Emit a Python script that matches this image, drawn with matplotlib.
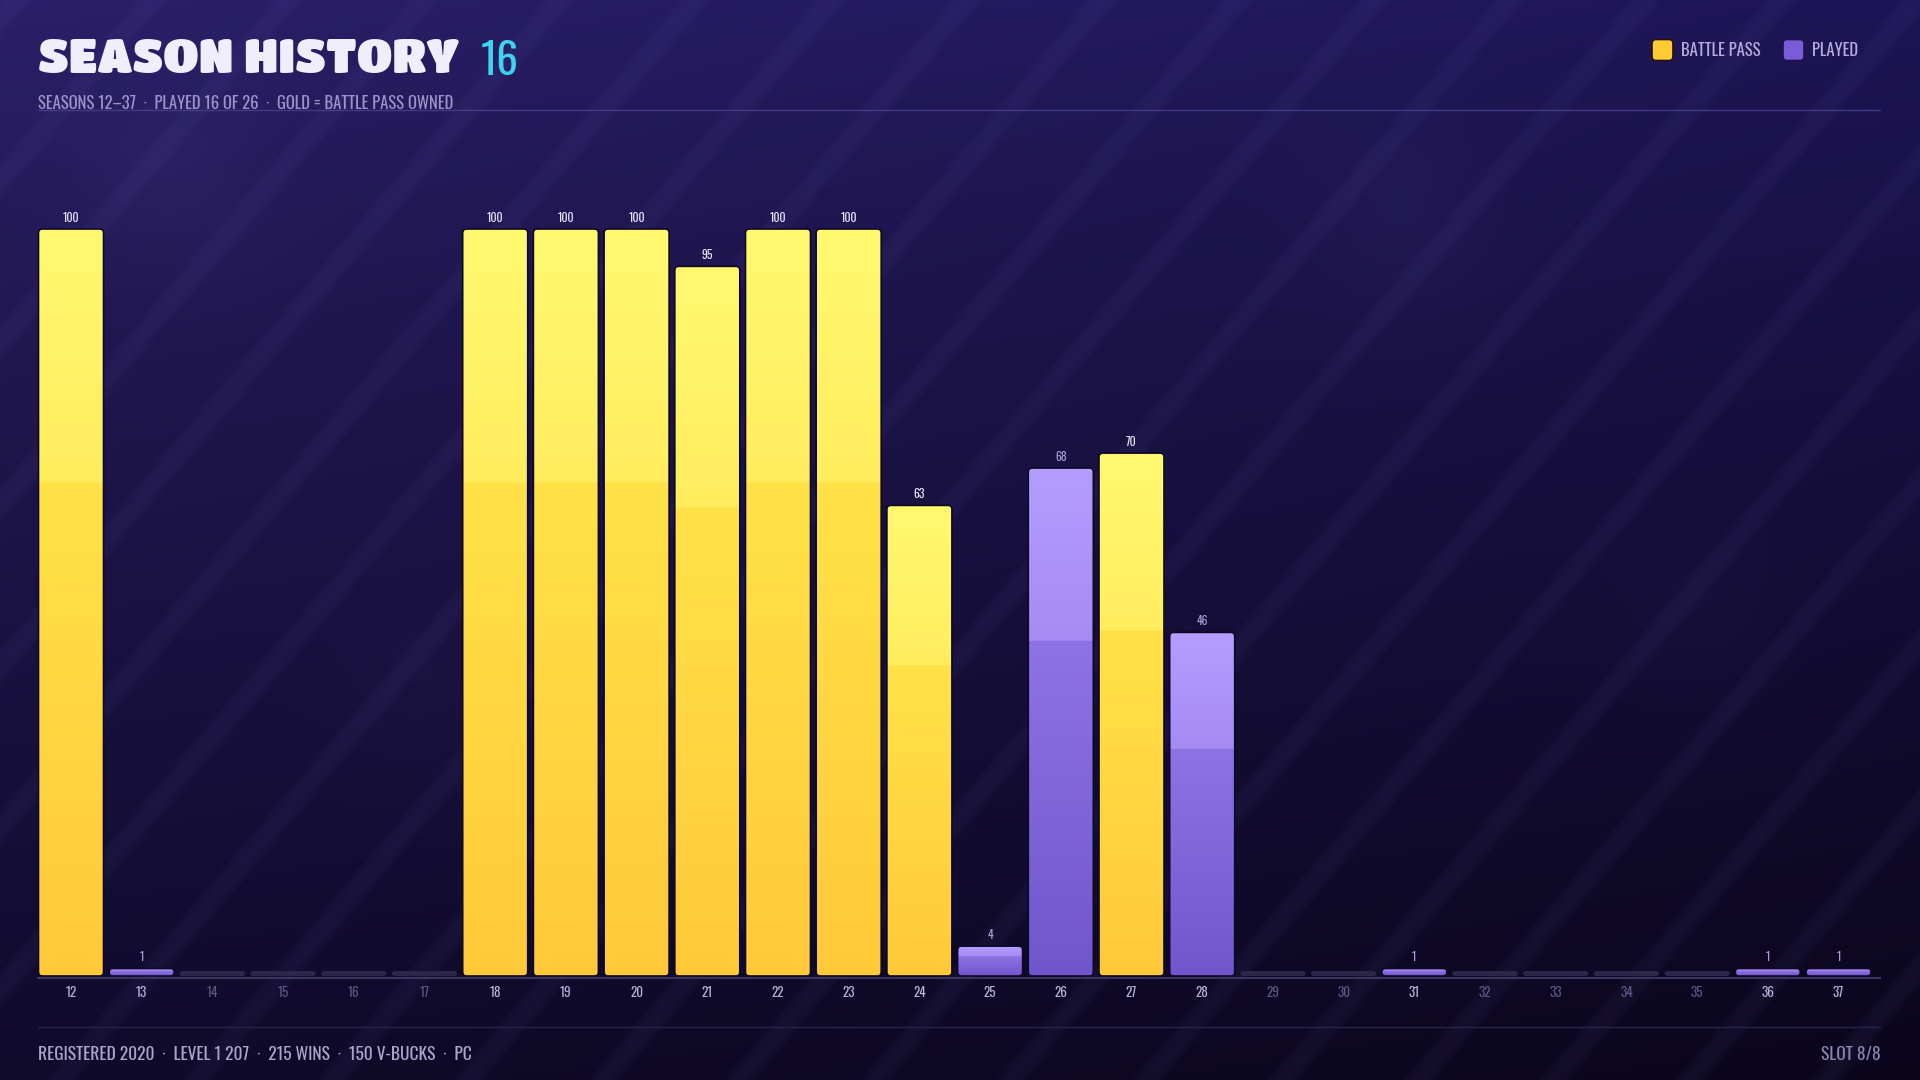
import numpy as np
import matplotlib
matplotlib.use("Agg")
import matplotlib.pyplot as plt
from matplotlib.patches import FancyBboxPatch
from matplotlib.colors import to_rgb

# ---------------- data ----------------
seasons = list(range(12, 38))
levels = [100, 1, 0, 0, 0, 0, 100, 100, 100, 95, 100, 100, 63, 4, 68, 70, 46,
          0, 0, 1, 0, 0, 0, 0, 1, 1]
battle_pass = [1, 0, 0, 0, 0, 0, 1, 1, 1, 1, 1, 1, 1, 0, 0, 1, 0,
               0, 0, 0, 0, 0, 0, 0, 0, 0]
title_text = "SEASON HISTORY"
count_text = "16"
subtitle_text = "SEASONS 12\u201337  \u00b7  PLAYED 16 OF 26  \u00b7  GOLD = BATTLE PASS OWNED"
footer_left = "REGISTERED 2020  \u00b7  LEVEL 1 207  \u00b7  215 WINS  \u00b7  150 V-BUCKS  \u00b7  PC"
footer_right = "SLOT 8/8"
legend_labels = ["BATTLE PASS", "PLAYED"]

# ---------------- style ----------------
W, H = 1920, 1080
NARROW = ["Oswald", "DejaVu Sans"]
HEAVY = ["Titan One", "Lilita One", "DejaVu Sans"]
GOLD = ["#FFF970", "#FFED5E", "#FFE248", "#FFC93A"]
PURP = ["#B59DFF", "#A68BF3", "#8E73E4", "#7155CD"]
STUB = "#2B2749"
EDGE = "#0D0826"

fig = plt.figure(figsize=(W / 100, H / 100), dpi=100)

# background
ax_bg = fig.add_axes([0, 0, 1, 1])
yy, xx = np.mgrid[0:H, 0:W].astype(float)
u = xx / W
v = yy / H
TL, TR = np.array(to_rgb("#2B2069")), np.array(to_rgb("#1E1557"))
BL, BR = np.array(to_rgb("#100A2B")), np.array(to_rgb("#0B061C"))
top = TL[None, None, :] * (1 - u[..., None]) + TR[None, None, :] * u[..., None]
bot = BL[None, None, :] * (1 - u[..., None]) + BR[None, None, :] * u[..., None]
vv = (v ** 0.85)[..., None]
bg = top * (1 - vv) + bot * vv
ang = np.deg2rad(50)
s = xx * np.sin(ang) + yy * np.cos(ang)
period, sw = 104.0, 24.0
ph = np.mod(s, period)
mask = np.clip(1 - np.abs(ph - sw / 2) / (sw / 2), 0, 1) ** 0.4
lav = np.array(to_rgb("#7A6FC8"))
bg = bg + 0.07 * mask[..., None] * (lav - bg)
for (cx, cy, r, a) in [(170, 175, 70, 0.06), (1405, 225, 70, 0.05), (1700, 610, 60, 0.03), (420, 690, 60, 0.03)]:
    g = np.exp(-((xx - cx) ** 2 + (yy - cy) ** 2) / (2 * r * r))
    bg = bg + a * g[..., None] * (lav - bg)
ax_bg.imshow(np.clip(bg, 0, 1), extent=[0, W, H, 0], aspect="auto", interpolation="bilinear")
ax_bg.set_xlim(0, W)
ax_bg.set_ylim(H, 0)
ax_bg.axis("off")

# header
ax_bg.text(38, 73, title_text, family=HEAVY, fontsize=34,
           color="#F1EEFB", va="baseline", ha="left")
ax_bg.text(481, 75, count_text, family=NARROW, fontsize=31, fontweight=300, color="#3DD4F2",
           va="baseline", ha="left")
ax_bg.text(38, 109, subtitle_text, family=NARROW, fontsize=12, fontweight=300, color="#9B93C9",
           va="baseline", ha="left")
ax_bg.plot([38, 1880], [109.5, 109.5], color="#4B418F", lw=1, alpha=0.8)

# legend
for (x0, col, edge, lab) in [(1652, "#FFCB35", "#2A0F10", legend_labels[0]),
                             (1783, "#7A5CD9", "#1B1450", legend_labels[1])]:
    sq = FancyBboxPatch((x0, 39.5), 21, 21, boxstyle="round,pad=0,rounding_size=4",
                        facecolor=col, edgecolor=edge, lw=1.2)
    ax_bg.add_patch(sq)
    ax_bg.text(x0 + 29, 51, lab, family=NARROW, fontsize=12, fontweight=300, color="#B4ADDB",
               va="center", ha="left")

# baseline / footer line
ax_bg.plot([38, 1880], [977.5, 977.5], color="#3A355F", lw=1.5)
ax_bg.plot([38, 1880], [1027, 1027], color="#27234A", lw=1)
ax_bg.text(38, 1054, footer_left, family=NARROW, fontsize=12.5, fontweight=300, color="#ABA5CD",
           va="center", ha="left")
ax_bg.text(1881, 1054, footer_right, family=NARROW, fontsize=12.5, fontweight=300, color="#8A84AE",
           va="center", ha="right")

# main axes
base_px, top_px, full_px = 976, 160, 229
left_px, right_px = 71 - 35.35, 1838.5 + 35.35
ax = fig.add_axes([left_px / W, (H - base_px) / H, (right_px - left_px) / W, (base_px - top_px) / H])
ymax = 100 * (base_px - top_px) / (base_px - full_px)
ax.set_facecolor("none")
for sp in ax.spines.values():
    sp.set_visible(False)
xpp = 26 / (right_px - left_px)
ypp = ymax / (base_px - top_px)
aspect = ypp / xpp

x = np.arange(len(seasons))
heights = np.array(levels, dtype=float)
played = heights > 0
stub_h = 5 * ypp
disp_h = np.where(played, heights, stub_h)
bars = ax.bar(x, disp_h, width=0.92, color="none", edgecolor="none")


def grad(cols, n=400, split=0.34):
    t = np.linspace(0, 1, n)
    c = [np.array(to_rgb(k)) for k in cols]
    out = np.zeros((n, 1, 3))
    for i, ti in enumerate(t):
        if ti < split:
            f = ti / split
            out[i, 0] = c[0] * (1 - f) + c[1] * f
        else:
            f = (ti - split) / (1 - split)
            out[i, 0] = c[2] * (1 - f) + c[3] * f
    return out


gold_img = grad(GOLD)
purp_img = grad(PURP)

for i, rect in enumerate(bars):
    x0, w, h = rect.get_x(), rect.get_width(), rect.get_height()
    rect.set_visible(False)
    r = min(4 * xpp, (h / aspect) / 2 * 0.98)
    if played[i]:
        patch = FancyBboxPatch((x0, 0), w, h, boxstyle=f"round,pad=0,rounding_size={r}",
                               mutation_aspect=aspect, facecolor="none", edgecolor="none")
        ax.add_patch(patch)
        img = gold_img if battle_pass[i] else purp_img
        im = ax.imshow(img, extent=(x0, x0 + w, 0, h), origin="upper", aspect="auto",
                       interpolation="bilinear", zorder=2)
        im.set_clip_path(patch)
        edge = FancyBboxPatch((x0, 0), w, h, boxstyle=f"round,pad=0,rounding_size={r}",
                              mutation_aspect=aspect, facecolor="none", edgecolor=EDGE,
                              lw=1.2, zorder=3)
        ax.add_patch(edge)
        lab_col = "#EAE6FA" if battle_pass[i] else "#A59DD3"
        ax.text(x[i], h + 11.5 * ypp, f"{levels[i]}", family=NARROW, fontsize=8.5,
                color=lab_col, ha="center", va="center", zorder=4)
    else:
        patch = FancyBboxPatch((x0, 0), w, h, boxstyle=f"round,pad=0,rounding_size={r}",
                               mutation_aspect=aspect, facecolor=STUB, edgecolor="none",
                               zorder=2)
        ax.add_patch(patch)

ax.set_xlim(-0.5, len(seasons) - 0.5)
ax.set_ylim(0, ymax)
ax.set_yticks([])
ax.set_xticks(x, [str(sn) for sn in seasons])
ax.tick_params(axis="x", length=0, pad=7)
for lbl, p in zip(ax.get_xticklabels(), played):
    lbl.set_fontfamily(NARROW)
    lbl.set_fontsize(9.5)
    lbl.set_fontweight(300)
    lbl.set_color("#B7B1DA" if p else "#5C5684")

fig.savefig("out.png", dpi=100)
